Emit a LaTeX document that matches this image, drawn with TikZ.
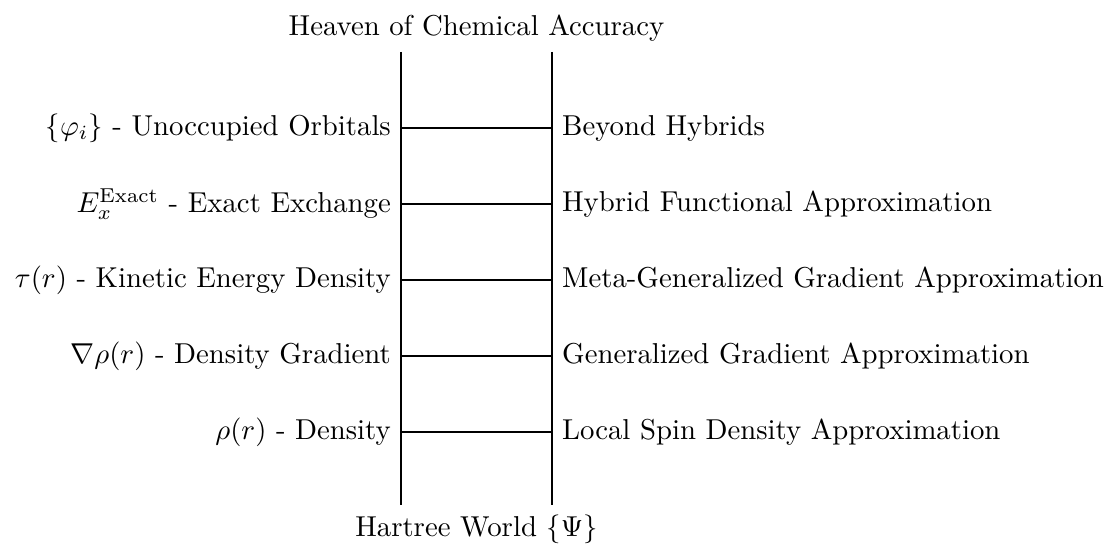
\documentclass[tikz,border=0pt]{standalone}
\begin{document}
\begin{tikzpicture}[x=0.3476pt,y=-0.3476pt,
  rail/.style={draw=black,line width=0.4pt},
  lbl/.style={inner sep=3.333pt}]
\useasboundingbox (0,0) rectangle (1113,545);
\coordinate (lt) at (401,52);
\coordinate (lb) at (401,505);
\coordinate (rt) at (552,52);
\coordinate (rb) at (552,505);
\draw[rail] (lt) -- (lb);
\draw[rail] (rt) -- (rb);
\node[lbl,anchor=south] (top) at (476.5,52) {Heaven of Chemical Accuracy};
\node[lbl,anchor=north] (bot) at (476.5,505) {Hartree World $\{\Psi\}$};
\foreach \y/\l/\r/\n in {
  128/{$\{\varphi_i\}$ - Unoccupied Orbitals}/{Beyond Hybrids}/5,
  204/{$E_x^{\mathrm{Exact}}$ - Exact Exchange}/{Hybrid Functional Approximation}/4,
  280/{$\tau(r)$ - Kinetic Energy Density}/{Meta-Generalized Gradient Approximation}/3,
  356/{$\nabla\rho(r)$ - Density Gradient}/{Generalized Gradient Approximation}/2,
  432/{$\rho(r)$ - Density}/{Local Spin Density Approximation}/1}{
  \coordinate (a\n) at (401,\y);
  \coordinate (b\n) at (552,\y);
  \draw[rail] (a\n) -- (b\n);
  \node[lbl,anchor=east] (L\n) at (a\n) {\l};
  \node[lbl,anchor=west] (R\n) at (b\n) {\r};
}
\end{tikzpicture}
\end{document}
